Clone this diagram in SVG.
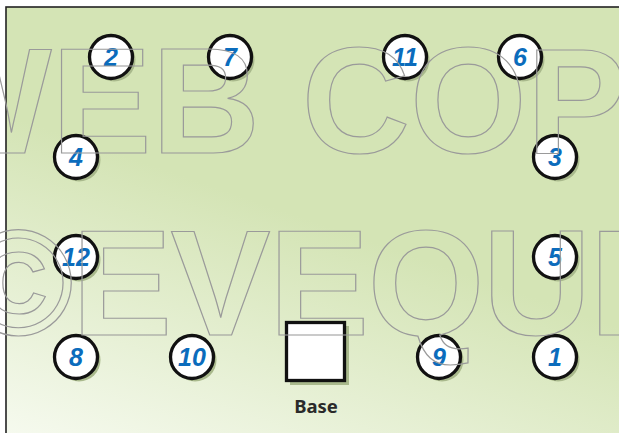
<svg xmlns="http://www.w3.org/2000/svg" width="619" height="433" viewBox="0 0 619 433">
<defs>
<linearGradient id="bg" x1="0" y1="1" x2="0.3" y2="0.4">
<stop offset="0" stop-color="#f6faef"/>
<stop offset="1" stop-color="#d4e4b5"/>
</linearGradient>
</defs>
<style>
.sh{fill:#a9b98c}
.c{fill:#fff;stroke:#111;stroke-width:3.3}
.n{font-family:"Liberation Sans",Arial,sans-serif;font-style:italic;font-weight:bold;font-size:25px;fill:#0b6cbc;text-anchor:middle}
.wm{font-family:"Liberation Sans",Arial,sans-serif;font-weight:bold;font-size:150px;fill:none;stroke:#9a9a9a;stroke-width:1.2}
.lbl{font-family:"Noto Sans","Liberation Sans",sans-serif;font-weight:bold;font-size:18.5px;fill:#2a2a2a;text-anchor:middle}
</style>
<rect width="619" height="433" fill="#fff"/>
<rect x="6" y="7" width="620" height="430" fill="url(#bg)" stroke="#222" stroke-width="1.6"/>
<g id="connectors"/>
<g id="n2"><circle class="sh" cx="114" cy="60" r="21.5"/><circle class="c" cx="111" cy="57" r="21.5"/><text class="n" x="111" y="66">2</text></g>
<g id="n7"><circle class="sh" cx="233" cy="60" r="21.5"/><circle class="c" cx="230" cy="57" r="21.5"/><text class="n" x="230" y="66">7</text></g>
<g id="n11"><circle class="sh" cx="408" cy="60" r="21.5"/><circle class="c" cx="405" cy="57" r="21.5"/><text class="n" x="405" y="66">11</text></g>
<g id="n6"><circle class="sh" cx="523" cy="60" r="21.5"/><circle class="c" cx="520" cy="57" r="21.5"/><text class="n" x="520" y="66">6</text></g>
<g id="n4"><circle class="sh" cx="79" cy="160" r="21.5"/><circle class="c" cx="76" cy="157" r="21.5"/><text class="n" x="76" y="166">4</text></g>
<g id="n3"><circle class="sh" cx="558" cy="160" r="21.5"/><circle class="c" cx="555" cy="157" r="21.5"/><text class="n" x="555" y="166">3</text></g>
<g id="n12"><circle class="sh" cx="79" cy="260" r="21.5"/><circle class="c" cx="76" cy="257" r="21.5"/><text class="n" x="76" y="266">12</text></g>
<g id="n5"><circle class="sh" cx="558" cy="260" r="21.5"/><circle class="c" cx="555" cy="257" r="21.5"/><text class="n" x="555" y="266">5</text></g>
<g id="n8"><circle class="sh" cx="79" cy="360" r="21.5"/><circle class="c" cx="76" cy="357" r="21.5"/><text class="n" x="76" y="366">8</text></g>
<g id="n10"><circle class="sh" cx="195" cy="360" r="21.5"/><circle class="c" cx="192" cy="357" r="21.5"/><text class="n" x="192" y="366">10</text></g>
<g id="n9"><circle class="sh" cx="442" cy="360" r="21.5"/><circle class="c" cx="439" cy="357" r="21.5"/><text class="n" x="439" y="366">9</text></g>
<g id="n1"><circle class="sh" cx="558" cy="360" r="21.5"/><circle class="c" cx="555" cy="357" r="21.5"/><text class="n" x="555" y="366">1</text></g>
<g id="base">
<rect x="290" y="326" width="59" height="59" fill="#a9b98c"/>
<rect x="286.5" y="322.5" width="58" height="58" fill="#fff" stroke="#111" stroke-width="3.3"/>
<text class="lbl" x="316" y="413">Base</text>
</g>
<g id="watermark">
<text class="wm" x="-90" y="153">WEB COPY</text>
<text class="wm" x="-37" y="335" letter-spacing="-1.5">©EVEQUI</text>
</g>
</svg>
